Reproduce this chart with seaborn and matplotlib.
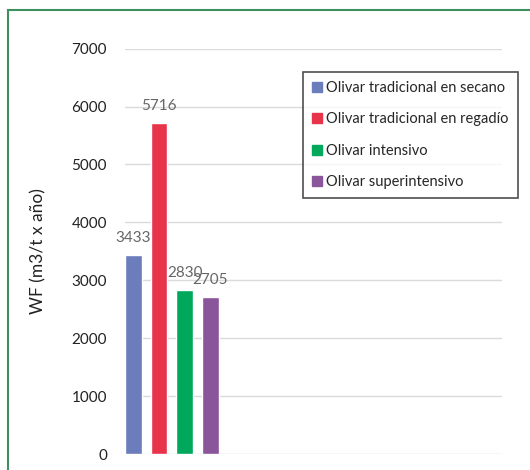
import matplotlib
matplotlib.use('Agg')
import matplotlib.pyplot as plt
import matplotlib.patches as mpatches
import seaborn as sns
import pandas as pd

# Chart data
series = ['Olivar tradicional en secano', 'Olivar tradicional en regadío',
          'Olivar intensivo', 'Olivar superintensivo']
values = [3433, 5716, 2830, 2705]
colors = ['#6B7DBA', '#E8344A', '#00A85C', '#8B559C']
yticks = [0, 1000, 2000, 3000, 4000, 5000, 6000, 7000]

df = pd.DataFrame({'serie': series, 'wf': values})

sns.set_theme(style='white')
plt.rcParams['font.family'] = ['Lato', 'DejaVu Sans']

fig = plt.figure(figsize=(5.3, 4.7), dpi=100)
ax = fig.add_axes([125 / 530, 1 - 454 / 470, 377 / 530, (454 - 48.7) / 470])

sns.barplot(data=df, x='serie', y='wf', hue='serie', palette=colors,
            saturation=1, width=0.66, legend=False, ax=ax, zorder=3)

ax.set_ylim(0, 7000)
ax.set_xlim(-0.33, 14.4)
ax.set_yticks(yticks)
ax.set_yticklabels([str(t) for t in yticks], fontsize=11, color='#222222')
ax.tick_params(axis='y', length=0, pad=13)
ax.set_xticks([])
ax.set_xlabel('')
ax.set_ylabel('WF (m3/t x año)', fontsize=12.5, color='#222222', labelpad=18)
ax.grid(axis='y', color='#DADADA', linewidth=1, zorder=0)
for s in ax.spines.values():
    s.set_visible(False)

for i, v in enumerate(values):
    ax.annotate(str(v), (i, v), xytext=(0, 12.5), textcoords='offset points',
                ha='center', va='center', fontsize=11, color='#666666')

handles = [mpatches.Patch(color=c, label=s) for c, s in zip(colors, series)]
leg = fig.legend(handles=handles, loc='upper left',
                 bbox_to_anchor=(303 / 530, 1 - 72 / 470), fontsize=10.5,
                 frameon=True, fancybox=False, handlelength=0.7, handleheight=0.7,
                 handletextpad=0.3, labelspacing=1.2, borderpad=0.6,
                 borderaxespad=0)
leg.get_frame().set_edgecolor('#222222')
leg.get_frame().set_linewidth(1.2)

# green frame around the figure
fig.patches.append(mpatches.Rectangle((8 / 530, -0.1), 1.2, 1 - 10 / 470 + 0.1,
                                      transform=fig.transFigure, fill=False,
                                      edgecolor='#3E8E5E', linewidth=1.5))

fig.savefig('out.png', dpi=100)
